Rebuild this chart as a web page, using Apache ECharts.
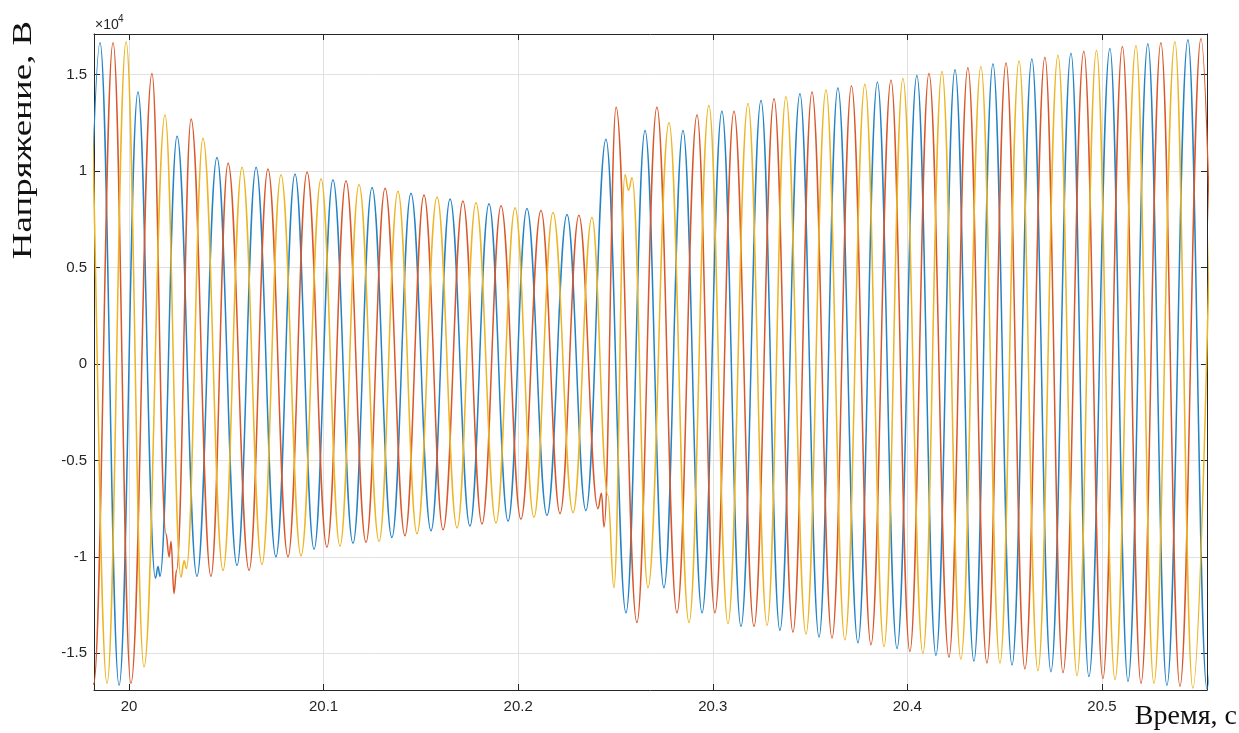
<!DOCTYPE html>
<html>
<head>
<meta charset="utf-8">
<script src="https://cdn.jsdelivr.net/npm/echarts@6/dist/echarts.min.js"></script>
<style>
  html, body { margin: 0; padding: 0; background: #ffffff; }
  #chart { width: 1239px; height: 733px; }
</style>
</head>
<body>
<div id="chart"></div>
<script>
// Three-phase voltage, V. Each list holds the waveform's turning points [time s, voltage V];
// the smoothed line between them reproduces the oscillation.
const phaseA = [
  [19.9751, -16650], [19.9851, 16650], [19.9949, -16650], [20.0046, 14100],
  [20.0136, -11100], [20.0149, -10500], [20.0159, -11000], [20.0247, 11800],
  [20.0349, -11000], [20.0452, 10700], [20.0555, -10450], [20.0653, 10200],
  [20.0755, -10000], [20.0853, 9850], [20.0951, -9600], [20.1048, 9550],
  [20.1151, -9300], [20.1249, 9150], [20.1351, -9000], [20.1449, 8850],
  [20.1552, -8650], [20.1650, 8550], [20.1752, -8400], [20.1850, 8300],
  [20.1948, -8150], [20.2045, 8050], [20.2148, -7850], [20.2251, 7750],
  [20.2348, -7600], [20.2451, 11650], [20.2554, -12900], [20.2652, 12100],
  [20.2749, -11600], [20.2847, 12100], [20.2945, -12900], [20.3047, 13100],
  [20.3145, -13600], [20.3248, 13650], [20.3345, -13800], [20.3448, 14000],
  [20.3546, -14150], [20.3643, 14300], [20.3746, -14450], [20.3846, 14600],
  [20.3947, -14750], [20.4049, 14950], [20.4147, -15100], [20.4245, 15250],
  [20.4342, -15400], [20.4440, 15550], [20.4538, -15600], [20.4640, 15800],
  [20.4738, -15950], [20.4841, 16100], [20.4933, -16200], [20.5041, 16350],
  [20.5134, -16450], [20.5236, 16600], [20.5334, -16650], [20.5442, 16800],
  [20.5540, -16850], [20.5642, 16900]
];
const phaseB = [
  [19.9720, 16650], [19.9818, -16600], [19.9918, 16650], [20.0010, -16550],
  [20.0118, 15050], [20.0190, -8800], [20.0206, -10000], [20.0216, -9200],
  [20.0231, -11900], [20.0244, -10700], [20.0319, 12700], [20.0421, -11000],
  [20.0509, 10400], [20.0617, -10700], [20.0714, 10100], [20.0817, -10000],
  [20.0915, 9950], [20.1017, -9500], [20.1115, 9500], [20.1218, -9250],
  [20.1316, 9100], [20.1418, -8900], [20.1516, 8750], [20.1614, -8600],
  [20.1716, 8450], [20.1814, -8300], [20.1912, 8200], [20.2014, -8050],
  [20.2117, 7950], [20.2215, -7750], [20.2312, 7700], [20.2410, -7500],
  [20.2428, -6700], [20.2441, -8450], [20.2503, 13300], [20.2610, -13400],
  [20.2713, 13300], [20.2816, -12900], [20.2919, 12900], [20.3011, -12900],
  [20.3109, 13100], [20.3212, -13600], [20.3315, 13750], [20.3412, -13900],
  [20.3510, 14100], [20.3613, -14200], [20.3713, 14400], [20.3813, -14550],
  [20.3916, 14700], [20.4013, -14900], [20.4111, 15050], [20.4214, -15200],
  [20.4311, 15350], [20.4409, -15500], [20.4507, 15600], [20.4604, -15800],
  [20.4707, 15900], [20.4800, -16000], [20.4907, 16200], [20.5005, -16300],
  [20.5105, 16450], [20.5201, -16550], [20.5303, 16650], [20.5401, -16700],
  [20.5509, 16860], [20.5606, -16900]
];
const phaseC = [
  [19.9689, -16550], [19.9787, 16600], [19.9887, -16550], [19.9985, 16700],
  [20.0077, -15700], [20.0185, 12900], [20.0267, -11050], [20.0283, -10200],
  [20.0295, -10600], [20.0380, 11700], [20.0483, -10700], [20.0581, 10200],
  [20.0683, -10400], [20.0781, 9800], [20.0884, -9950], [20.0987, 9600],
  [20.1084, -9450], [20.1182, 9300], [20.1285, -9200], [20.1382, 8950],
  [20.1480, -8800], [20.1583, 8650], [20.1686, -8500], [20.1783, 8350],
  [20.1886, -8250], [20.1984, 8100], [20.2081, -7950], [20.2179, 7850],
  [20.2282, -7700], [20.2379, 7600], [20.2461, -6800], [20.2492, -11600],
  [20.2549, 9800], [20.2567, 9000], [20.2585, 9650], [20.2667, -11600],
  [20.2775, 12500], [20.2878, -13400], [20.2980, 13400], [20.3078, -13450],
  [20.3181, 13500], [20.3279, -13550], [20.3376, 13850], [20.3479, -14000],
  [20.3582, 14200], [20.3679, -14300], [20.3782, 14500], [20.3880, -14650],
  [20.3977, 14800], [20.4080, -15000], [20.4178, 15150], [20.4275, -15300],
  [20.4378, 15400], [20.4476, -15500], [20.4574, 15700], [20.4671, -15900],
  [20.4774, 16000], [20.4872, -16150], [20.4972, 16250], [20.5067, -16350],
  [20.5175, 16500], [20.5267, -16550], [20.5375, 16700], [20.5467, -16800],
  [20.5576, 16900]
];

// Tick positions and axis limits
const xTicks = [20, 20.1, 20.2, 20.3, 20.4, 20.5];
const yTicks = [-15000, -10000, -5000, 0, 5000, 10000, 15000];
const xLimits = [19.982, 20.554];
const yLimits = [-16900, 17100];

const INK = '#262626';
const GRID = '#e1e1e1';
const TICK_FONT = '"Liberation Sans", Arial, Helvetica, sans-serif';
const SERIF = '"Liberation Serif", "Times New Roman", "DejaVu Serif", serif';

function xAxis(position, primary) {
  return {
    type: 'value', position, min: xLimits[0], max: xLimits[1],
    axisLine: { show: true, onZero: false, lineStyle: { color: INK, width: 1 } },
    axisTick: { show: true, inside: true, length: 6, customValues: xTicks,
                lineStyle: { color: INK, width: 1 } },
    axisLabel: { show: primary, customValues: xTicks, color: INK, fontSize: 15,
                 fontFamily: TICK_FONT, margin: 9,
                 formatter: v => String(+v.toFixed(1)) },
    splitLine: { show: primary, lineStyle: { color: GRID, width: 1 } }
  };
}
function yAxis(position, primary) {
  return {
    type: 'value', position, min: yLimits[0], max: yLimits[1],
    axisLine: { show: true, onZero: false, lineStyle: { color: INK, width: 1 } },
    axisTick: { show: true, inside: true, length: 6, customValues: yTicks,
                lineStyle: { color: INK, width: 1 } },
    axisLabel: { show: primary, customValues: yTicks, color: INK, fontSize: 15,
                 fontFamily: TICK_FONT, margin: 7,
                 formatter: v => String(+(v / 1e4).toFixed(2)) },
    splitLine: { show: primary, lineStyle: { color: GRID, width: 1 } }
  };
}

function phaseSeries(name, data, color) {
  return {
    name, type: 'line', data, xAxisIndex: 0, yAxisIndex: 0,
    showSymbol: false, symbol: 'none',
    smooth: 0.4, smoothMonotone: 'x',
    clip: true,
    lineStyle: { color, width: 1.5 },
    emphasis: { disabled: true },
    silent: true
  };
}

const chart = echarts.init(document.getElementById('chart'), null, { renderer: 'canvas' });
chart.setOption({
  animation: false,
  backgroundColor: '#ffffff',
  grid: { left: 94, right: 32, top: 34, bottom: 43, containLabel: false, outerBoundsMode: 'none' },
  xAxis: [xAxis('bottom', true), xAxis('top', false)],
  yAxis: [yAxis('left', true), yAxis('right', false)],
  series: [
    phaseSeries('Фаза A', phaseA, '#2483c5'),
    phaseSeries('Фаза B', phaseB, '#d9582b'),
    phaseSeries('Фаза C', phaseC, '#edb423')
  ],
  graphic: [
    // exponent of the voltage axis
    { type: 'text', x: 95, y: 25, silent: true,
      style: { text: '×10', font: '14px ' + TICK_FONT, fill: INK,
               align: 'left', verticalAlign: 'middle', textAlign: 'left', textVerticalAlign: 'middle' } },
    { type: 'text', x: 118, y: 19, silent: true,
      style: { text: '4', font: '10px ' + TICK_FONT, fill: INK,
               align: 'left', verticalAlign: 'middle', textAlign: 'left', textVerticalAlign: 'middle' } },
    // axis titles
    { type: 'text', x: 24, y: 140, rotation: Math.PI / 2, scaleX: 1.32, silent: true,
      style: { text: 'Напряжение, В', font: '28px ' + SERIF, fill: '#111111',
               align: 'center', verticalAlign: 'middle', textAlign: 'center', textVerticalAlign: 'middle' } },
    { type: 'text', x: 1237, y: 717, silent: true,
      style: { text: 'Время, с', font: '28px ' + SERIF, fill: '#111111',
               align: 'right', verticalAlign: 'middle', textAlign: 'right', textVerticalAlign: 'middle' } }
  ]
});
</script>
</body>
</html>
